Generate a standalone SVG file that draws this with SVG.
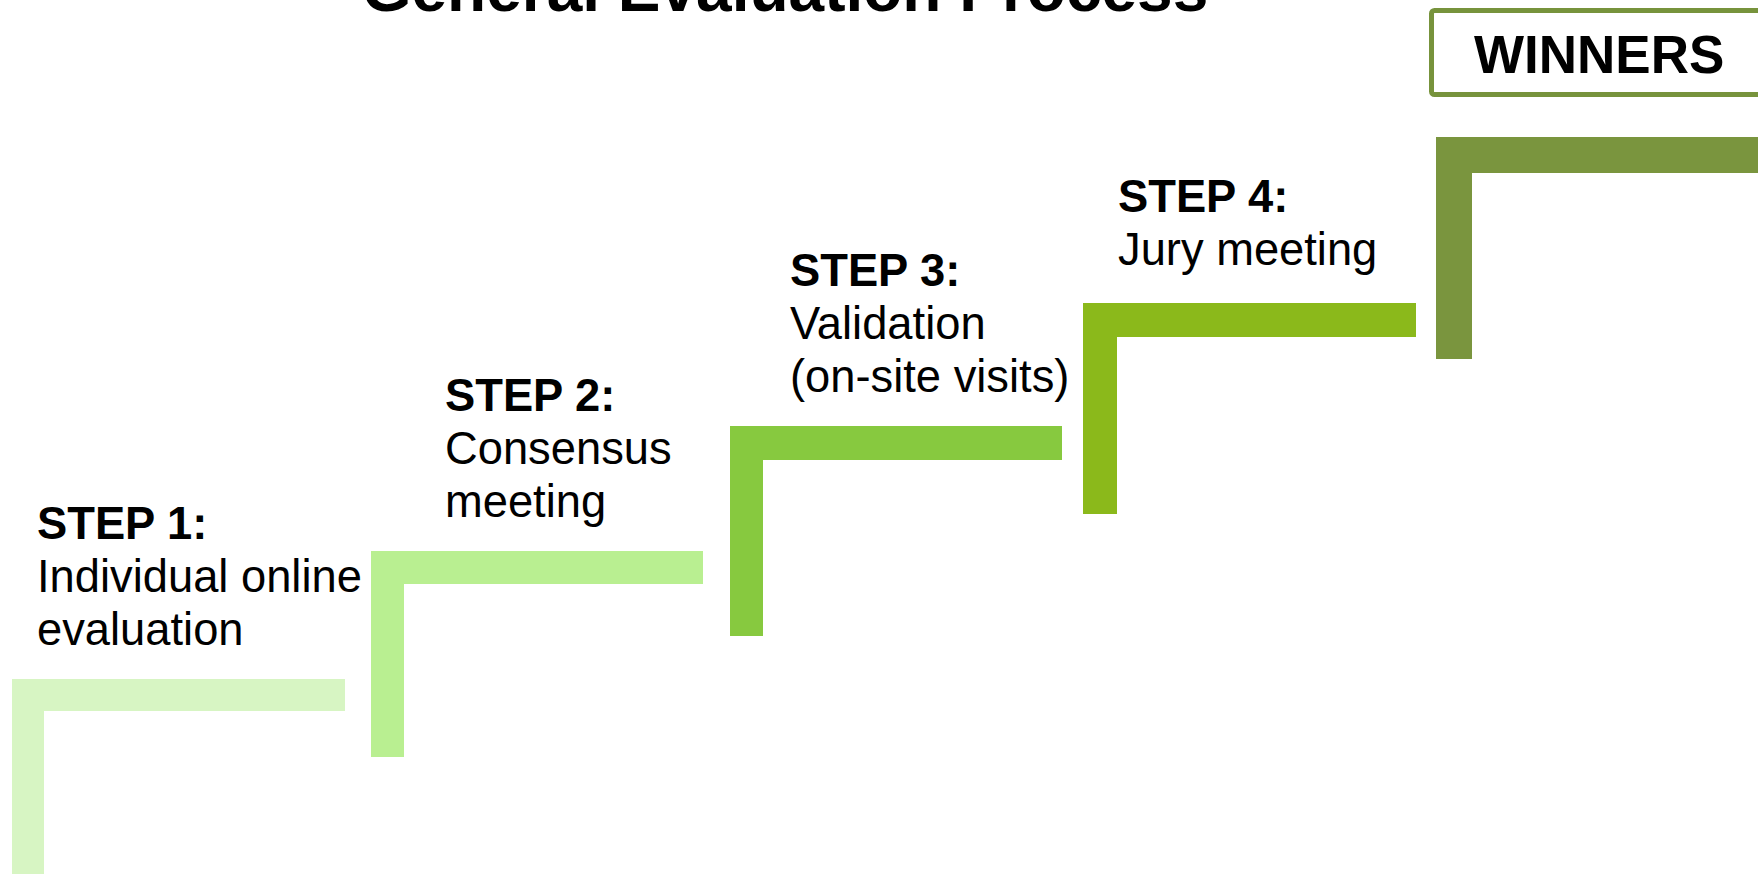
<svg xmlns="http://www.w3.org/2000/svg" width="1758" height="874" viewBox="0 0 1758 874">
<style>
.t{font-family:"Liberation Sans",Arial,sans-serif;fill:#000}
.title{font-size:64px;font-weight:bold}
.h{font-size:45.3px;font-weight:bold}
.b{font-size:45.3px}
.w{font-size:53px;font-weight:bold}
</style>
<rect width="1758" height="874" fill="#fff"/>
<text class="t title" x="785" y="11" text-anchor="middle">General Evaluation Process</text>
<g id="winners">
<rect x="1431.5" y="10.5" width="340" height="84" rx="3" fill="#fff" stroke="#77933c" stroke-width="5"/>
<text class="t w" x="1474" y="73">WINNERS</text>
</g>
<g id="step1">
<path d="M12 679H345V711H44V874H12Z" fill="#d7f5c3"/>
<text class="t h" x="37" y="539">STEP 1:</text>
<text class="t b" x="37" y="592">Individual online</text>
<text class="t b" x="37" y="645">evaluation</text>
</g>
<g id="step2">
<path d="M371 551H703V584H404V757H371Z" fill="#b9ef91"/>
<text class="t h" x="445" y="411">STEP 2:</text>
<text class="t b" x="445" y="464">Consensus</text>
<text class="t b" x="445" y="517">meeting</text>
</g>
<g id="step3">
<path d="M730 426H1062V460H763V636H730Z" fill="#87c93f"/>
<text class="t h" x="790" y="286">STEP 3:</text>
<text class="t b" x="790" y="339">Validation</text>
<text class="t b" x="790" y="392">(on-site visits)</text>
</g>
<g id="step4">
<path d="M1083 303H1416V337H1117V514H1083Z" fill="#8bb91b"/>
<text class="t h" x="1118" y="212">STEP 4:</text>
<text class="t b" x="1118" y="265">Jury meeting</text>
</g>
<g id="step5">
<path d="M1436 137H1758V173H1472V359H1436Z" fill="#7a953e"/>
</g>
<g id="connectors"></g>
</svg>
